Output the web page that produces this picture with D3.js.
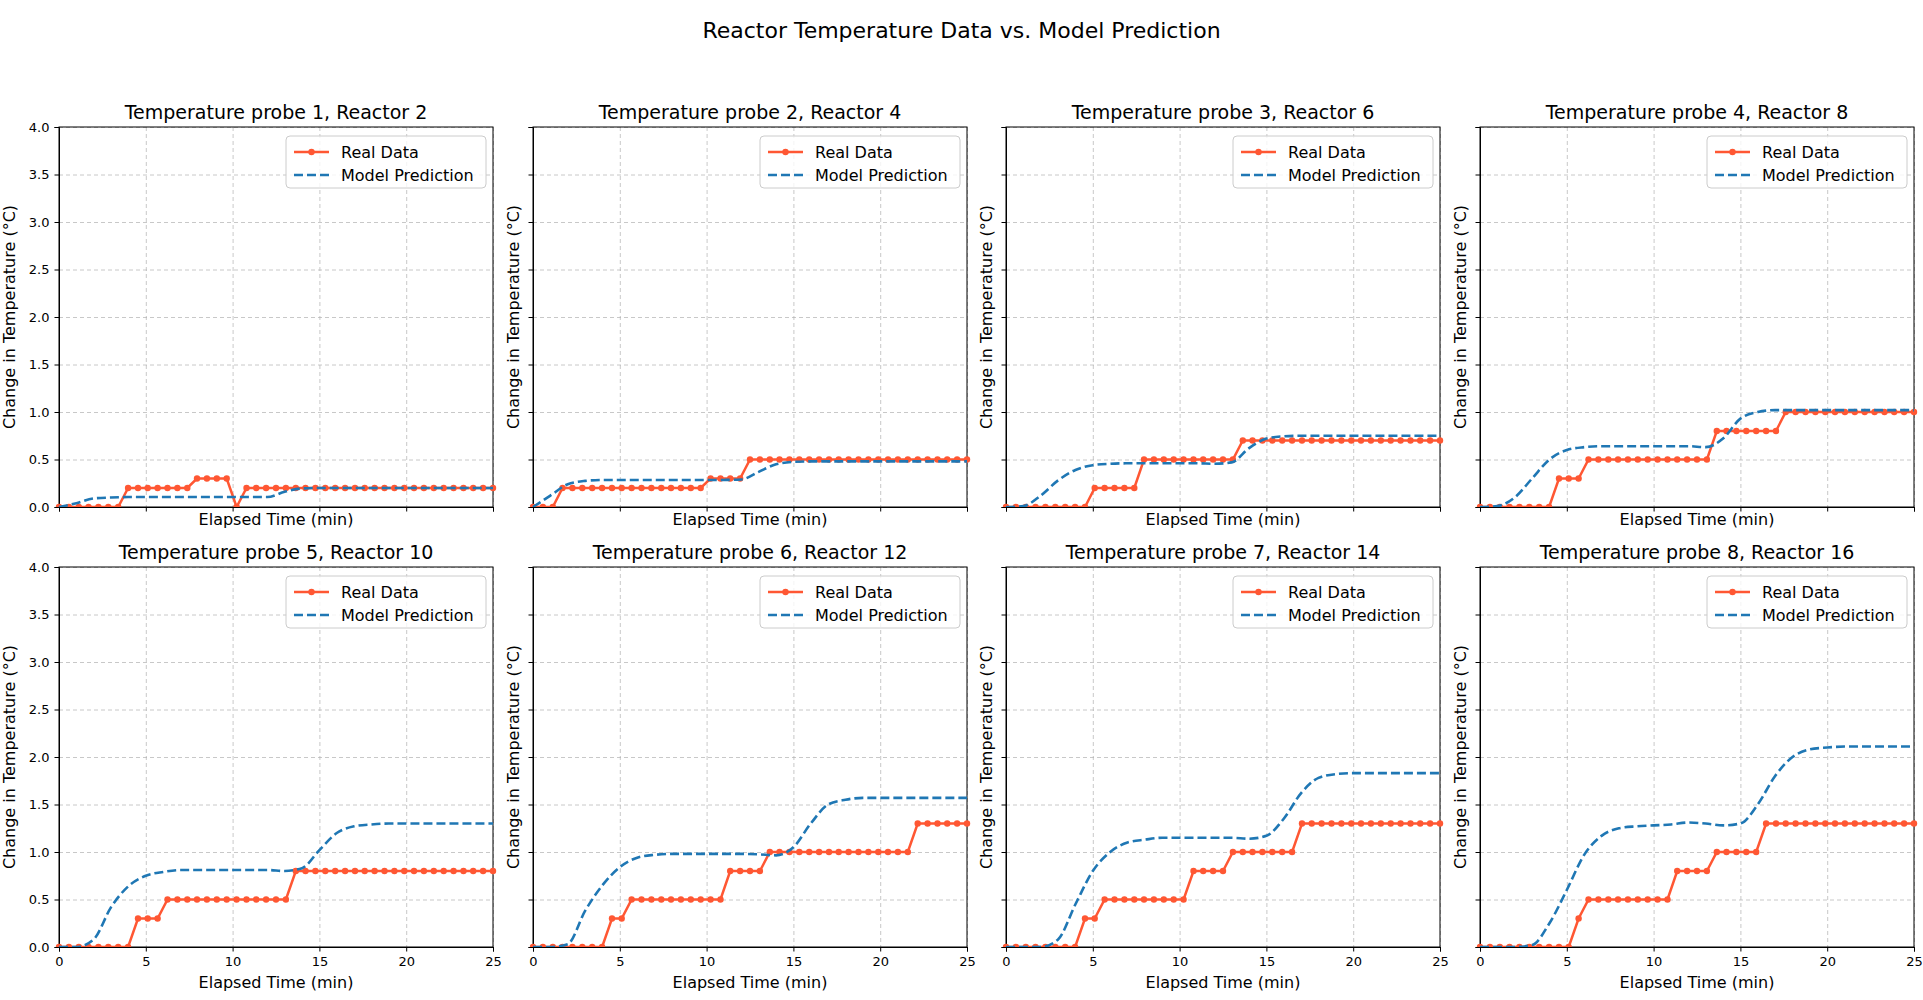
<!DOCTYPE html>
<html><head><meta charset="utf-8">
<script src="https://cdn.jsdelivr.net/npm/d3@7"></script>
<style>body{margin:0;background:#fff;font-family:"DejaVu Sans",sans-serif}</style>
</head><body><div id="chart"></div>
<script>
const W = 1923, H = 1000;

const titles = ["Temperature probe 1, Reactor 2","Temperature probe 2, Reactor 4","Temperature probe 3, Reactor 6","Temperature probe 4, Reactor 8",
  "Temperature probe 5, Reactor 10","Temperature probe 6, Reactor 12","Temperature probe 7, Reactor 14","Temperature probe 8, Reactor 16"];

// real data sampled at 45 evenly spaced times from 0 to 25 min
const realTimes = [0,0.57,1.14,1.70,2.27,2.84,3.41,3.98,4.55,5.11,5.68,6.25,6.82,7.39,7.95,8.52,9.09,9.66,10.23,10.80,11.36,11.93,12.50,13.07,13.64,14.20,14.77,15.34,15.91,16.48,17.05,17.61,18.18,18.75,19.32,19.89,20.45,21.02,21.59,22.16,22.73,23.30,23.86,24.43,25];
const real1 = [0,0,0,0,0,0,0,0.2,0.2,0.2,0.2,0.2,0.2,0.2,0.3,0.3,0.3,0.3,0,0.2,0.2,0.2,0.2,0.2,0.2,0.2,0.2,0.2,0.2,0.2,0.2,0.2,0.2,0.2,0.2,0.2,0.2,0.2,0.2,0.2,0.2,0.2,0.2,0.2,0.2];
const real2 = [0,0,0,0.2,0.2,0.2,0.2,0.2,0.2,0.2,0.2,0.2,0.2,0.2,0.2,0.2,0.2,0.2,0.3,0.3,0.3,0.3,0.5,0.5,0.5,0.5,0.5,0.5,0.5,0.5,0.5,0.5,0.5,0.5,0.5,0.5,0.5,0.5,0.5,0.5,0.5,0.5,0.5,0.5,0.5];
const real3 = [0,0,0,0,0,0,0,0,0,0.2,0.2,0.2,0.2,0.2,0.5,0.5,0.5,0.5,0.5,0.5,0.5,0.5,0.5,0.5,0.7,0.7,0.7,0.7,0.7,0.7,0.7,0.7,0.7,0.7,0.7,0.7,0.7,0.7,0.7,0.7,0.7,0.7,0.7,0.7,0.7];
const real4 = [0,0,0,0,0,0,0,0,0.3,0.3,0.3,0.5,0.5,0.5,0.5,0.5,0.5,0.5,0.5,0.5,0.5,0.5,0.5,0.5,0.8,0.8,0.8,0.8,0.8,0.8,0.8,1.0,1.0,1.0,1.0,1.0,1.0,1.0,1.0,1.0,1.0,1.0,1.0,1.0,1.0];
const real5 = [0,0,0,0,0,0,0,0,0.3,0.3,0.3,0.5,0.5,0.5,0.5,0.5,0.5,0.5,0.5,0.5,0.5,0.5,0.5,0.5,0.8,0.8,0.8,0.8,0.8,0.8,0.8,0.8,0.8,0.8,0.8,0.8,0.8,0.8,0.8,0.8,0.8,0.8,0.8,0.8,0.8];
const real6 = [0,0,0,0,0,0,0,0,0.3,0.3,0.5,0.5,0.5,0.5,0.5,0.5,0.5,0.5,0.5,0.5,0.8,0.8,0.8,0.8,1.0,1.0,1.0,1.0,1.0,1.0,1.0,1.0,1.0,1.0,1.0,1.0,1.0,1.0,1.0,1.3,1.3,1.3,1.3,1.3,1.3];
const real7 = [0,0,0,0,0,0,0,0,0.3,0.3,0.5,0.5,0.5,0.5,0.5,0.5,0.5,0.5,0.5,0.8,0.8,0.8,0.8,1.0,1.0,1.0,1.0,1.0,1.0,1.0,1.3,1.3,1.3,1.3,1.3,1.3,1.3,1.3,1.3,1.3,1.3,1.3,1.3,1.3,1.3];
const real8 = [0,0,0,0,0,0,0,0,0,0,0.3,0.5,0.5,0.5,0.5,0.5,0.5,0.5,0.5,0.5,0.8,0.8,0.8,0.8,1.0,1.0,1.0,1.0,1.0,1.3,1.3,1.3,1.3,1.3,1.3,1.3,1.3,1.3,1.3,1.3,1.3,1.3,1.3,1.3,1.3];

// model predictions, one value per minute 0..25
const modelTimes = [0,1,2,3,4,5,6,7,8,9,10,11,12,13,14,15,16,17,18,19,20,21,22,23,24,25];
const model1 = [0,0.04,0.09,0.1,0.105,0.105,0.105,0.105,0.105,0.105,0.105,0.105,0.105,0.16,0.195,0.2,0.2,0.2,0.2,0.2,0.2,0.2,0.2,0.2,0.2,0.2];
const model2 = [0,0.12,0.24,0.275,0.285,0.285,0.285,0.285,0.285,0.285,0.285,0.285,0.29,0.37,0.45,0.475,0.48,0.48,0.48,0.48,0.48,0.48,0.48,0.48,0.48,0.48];
const model3 = [0,0.01,0.12,0.28,0.39,0.44,0.455,0.46,0.46,0.46,0.46,0.46,0.455,0.47,0.62,0.72,0.745,0.75,0.75,0.75,0.75,0.75,0.75,0.75,0.75,0.75];
const model4 = [0,0.01,0.1,0.3,0.5,0.6,0.63,0.64,0.64,0.64,0.64,0.64,0.64,0.63,0.72,0.93,1.0,1.02,1.02,1.02,1.02,1.02,1.02,1.02,1.02,1.02];
const model5 = [0,0,0.08,0.42,0.64,0.75,0.79,0.81,0.81,0.81,0.81,0.81,0.81,0.8,0.83,1.02,1.2,1.27,1.29,1.3,1.3,1.3,1.3,1.3,1.3,1.3];
const model6 = [0,0,0.03,0.38,0.65,0.84,0.94,0.97,0.98,0.98,0.98,0.98,0.98,0.975,0.965,1.05,1.3,1.5,1.55,1.57,1.57,1.57,1.57,1.57,1.57,1.57];
const model7 = [0,0,0,0.08,0.45,0.8,1.0,1.1,1.13,1.15,1.15,1.15,1.15,1.15,1.14,1.17,1.35,1.62,1.78,1.82,1.83,1.83,1.83,1.83,1.83,1.83];
const model8 = [0,0,0,0.02,0.25,0.6,0.97,1.17,1.25,1.27,1.28,1.29,1.31,1.3,1.28,1.3,1.5,1.8,2.0,2.08,2.1,2.11,2.11,2.11,2.11,2.11];

const reals = [real1,real2,real3,real4,real5,real6,real7,real8];
const models = [model1,model2,model3,model4,model5,model6,model7,model8];

const colX = [59, 533, 1006, 1480], pw = 434;
const rowY = [127, 567], ph = 380;
const red = "#ff5733", blue = "#1f77b4";

const svg = d3.select("#chart").append("svg").attr("width", W).attr("height", H);

svg.append("text").attr("x", W / 2).attr("y", 38).attr("text-anchor", "middle")
  .style("font-size", "22px").text("Reactor Temperature Data vs. Model Prediction");

const x = d3.scaleLinear().domain([0, 25]).range([0, pw]);
const y = d3.scaleLinear().domain([0, 4]).range([ph, 0]);

titles.forEach((title, i) => {
  const r = Math.floor(i / 4), c = i % 4;
  const g = svg.append("g").attr("transform", `translate(${colX[c]},${rowY[r]})`);

  // grid
  g.append("g").call(d3.axisBottom(x).tickValues([0,5,10,15,20,25]).tickSize(ph).tickFormat(""))
    .call(a => a.select(".domain").remove())
    .selectAll("line").attr("stroke", "#b0b0b0").attr("stroke-dasharray", "4,3").attr("stroke-opacity", 0.7);
  g.append("g").call(d3.axisLeft(y).tickValues(d3.range(0, 4.01, 0.5)).tickSize(-pw).tickFormat(""))
    .call(a => a.select(".domain").remove())
    .selectAll("line").attr("stroke", "#b0b0b0").attr("stroke-dasharray", "4,3").attr("stroke-opacity", 0.7);

  // axes
  const xa = g.append("g").attr("transform", `translate(0,${ph})`)
    .call(d3.axisBottom(x).tickValues([0,5,10,15,20,25]).tickSize(4.5).tickPadding(5)
      .tickFormat(r === 1 ? d3.format("d") : ""));
  const ya = g.append("g")
    .call(d3.axisLeft(y).tickValues(d3.range(0, 4.01, 0.5)).tickSize(4.5).tickPadding(5)
      .tickFormat(c === 0 ? d3.format(".1f") : ""));
  [xa, ya].forEach(a => a.selectAll("text").style("font-size", "13px").style("font-family", "DejaVu Sans").attr("fill", "#000"));
  g.append("rect").attr("width", pw).attr("height", ph).attr("fill", "none").attr("stroke", "#000").attr("stroke-width", 1);

  g.append("text").attr("x", pw / 2).attr("y", -8).attr("text-anchor", "middle")
    .style("font-size", "19px").text(title);
  g.append("text").attr("x", pw / 2).attr("y", r === 1 ? ph + 41 : ph + 18).attr("text-anchor", "middle")
    .style("font-size", "16px").text("Elapsed Time (min)");
  g.append("text").attr("transform", `translate(${c === 0 ? -44 : -14},${ph / 2}) rotate(-90)`)
    .attr("text-anchor", "middle").style("font-size", "16px").text("Change in Temperature (°C)");

  const clip = "clip" + i;
  g.append("clipPath").attr("id", clip).append("rect").attr("x", -6).attr("y", -6).attr("width", pw + 12).attr("height", ph + 6);
  const plot = g.append("g").attr("clip-path", `url(#${clip})`);

  const rd = realTimes.map((t, k) => [t, reals[i][k]]);
  const md = modelTimes.map((t, k) => [t, models[i][k]]);

  plot.append("path").datum(rd).attr("fill", "none").attr("stroke", red).attr("stroke-width", 2.5)
    .attr("d", d3.line().x(d => x(d[0])).y(d => y(d[1])));
  plot.selectAll("circle").data(rd).join("circle")
    .attr("cx", d => x(d[0])).attr("cy", d => y(d[1])).attr("r", 3.2).attr("fill", red);
  plot.append("path").datum(md).attr("fill", "none").attr("stroke", blue).attr("stroke-width", 2.6)
    .attr("stroke-dasharray", "9,4")
    .attr("d", d3.line().curve(d3.curveMonotoneX).x(d => x(d[0])).y(d => y(d[1])));

  // legend
  const lg = g.append("g").attr("transform", `translate(${pw - 207},9)`);
  lg.append("rect").attr("width", 200).attr("height", 52).attr("rx", 4)
    .attr("fill", "#fff").attr("fill-opacity", 0.8).attr("stroke", "#ccc");
  lg.append("line").attr("x1", 8).attr("x2", 43).attr("y1", 16).attr("y2", 16).attr("stroke", red).attr("stroke-width", 2.5);
  lg.append("circle").attr("cx", 25.5).attr("cy", 16).attr("r", 3.2).attr("fill", red);
  lg.append("line").attr("x1", 8).attr("x2", 43).attr("y1", 39).attr("y2", 39).attr("stroke", blue).attr("stroke-width", 2.6).attr("stroke-dasharray", "9,4");
  lg.append("text").attr("x", 55).attr("y", 22).style("font-size", "16px").text("Real Data");
  lg.append("text").attr("x", 55).attr("y", 45).style("font-size", "16px").text("Model Prediction");
});
</script>
</body></html>
